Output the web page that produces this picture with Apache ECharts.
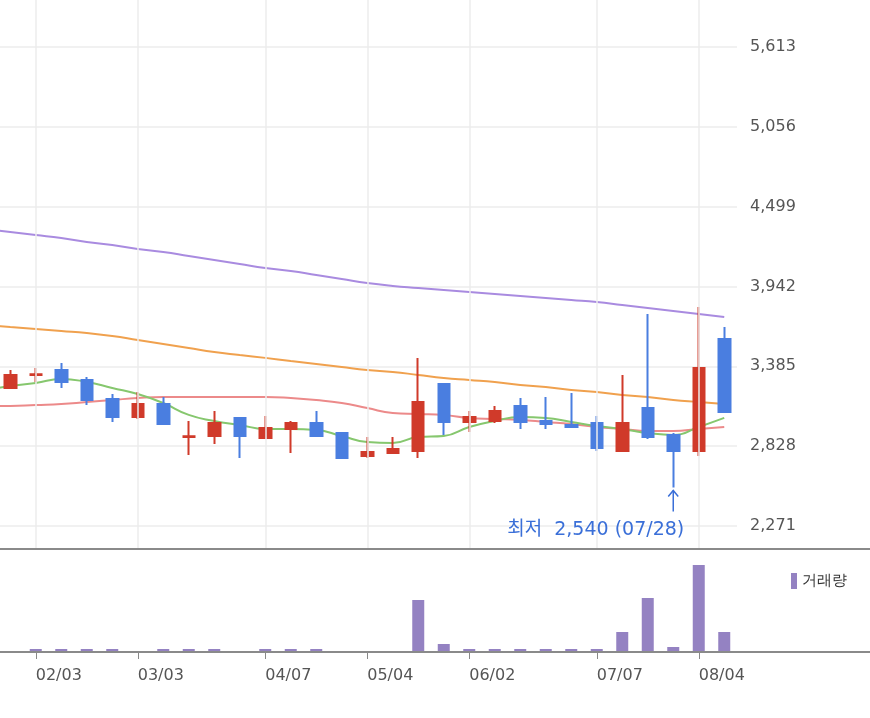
<!DOCTYPE html>
<html><head><meta charset="utf-8">
<script src="https://cdn.jsdelivr.net/npm/echarts@6/dist/echarts.min.js"></script>
<style>html,body{margin:0;padding:0;background:#fff;overflow:hidden}#c{position:absolute;left:-28px;top:0;width:898px;height:718px}</style>
</head><body><div id="c"></div>
<script>
const dates = ['01/20','01/27','02/03','02/10','02/17','02/24','03/03','03/10','03/17','03/24','03/31','04/07','04/14','04/21','04/28','05/04','05/12','05/19','05/26','06/02','06/09','06/16','06/23','06/30','07/07','07/14','07/21','07/28','08/04','08/11'];
const labelDates = ['02/03','03/03','04/07','05/04','06/02','07/07','08/04'];
const yTicks = [2271,2828,3385,3942,4499,5056,5613];
// [open, close, low, high]
const ohlc = [
  null,
  [3234,3325,3234,3360],
  [3325,3330,3276,3373],
  [3360,3276,3234,3408],
  [3290,3150,3115,3311],
  [3157,3032,2997,3192],
  [3032,3122,3018,3206],
  [3122,2983,2976,3171],
  [2892,2898,2766,3004],
  [2899,2990,2843,3073],
  [3025,2899,2745,3025],
  [2885,2955,2878,3039],
  [2948,2990,2780,3004],
  [2990,2899,2899,3073],
  [2920,2745,2745,2920],
  [2760,2787,2745,2892],
  [2780,2808,2780,2892],
  [2794,3136,2745,3443],
  [3262,2997,2906,3262],
  [2997,3032,2927,3073],
  [3004,3073,2990,3108],
  [3108,2997,2948,3164],
  [3004,2983,2948,3171],
  [2976,2962,2962,3199],
  [2990,2815,2794,3039],
  [2794,2990,2794,3325],
  [3094,2892,2878,3750],
  [2906,2794,2540,2920],
  [2794,3373,2760,3799],
  [3576,3067,3067,3659]
];
const ma5 = [3220,3248,3269,3297,3276,3234,3192,3129,3046,3004,2976,2948,2948,2941,2899,2857,2850,2892,2899,2962,3004,3032,3025,2997,2969,2948,2920,2906,2962,3025];
const ma20 = [3108,3108,3115,3122,3136,3150,3164,3171,3171,3171,3171,3171,3164,3150,3129,3094,3060,3053,3046,3025,3018,3011,2997,2983,2962,2948,2934,2934,2948,2962];
const ma60 = [3673,3659,3646,3632,3618,3597,3569,3541,3513,3485,3464,3444,3422,3401,3380,3360,3346,3325,3304,3290,3276,3255,3241,3220,3206,3185,3171,3150,3136,3122];
const ma120 = [4343,4322,4301,4280,4253,4232,4204,4183,4155,4127,4099,4071,4050,4022,3994,3966,3946,3932,3918,3904,3890,3876,3862,3848,3834,3813,3792,3771,3750,3729];
const volume = [0,0,3,3,3,3,0,3,3,3,0,3,3,3,0,0,0,52,8,3,3,3,3,3,3,20,54,5,87,20];
const lowIndex = 27, lowValue = 2540;

const isLabel = (i) => labelDates.indexOf(dates[i]) >= 0;
const UP = '#d03a2a', DOWN = '#4a7ee0';
const chart = echarts.init(document.getElementById('c'));
const font = 'DejaVu Sans, sans-serif';
const candleData = ohlc.map(d => d ? d : '-');
const baseGraphic = [
  {type: 'line', shape: {x1: 28, y1: 549, x2: 898, y2: 549}, style: {stroke: '#8a8a8a', lineWidth: 2}, z: 10},
  {type: 'line', shape: {x1: 28, y1: 652, x2: 898, y2: 652}, style: {stroke: '#8a8a8a', lineWidth: 2}, z: 10}
];
chart.setOption({
  animation: false,
  grid: [
    {left: 0, width: 765, top: 47, height: 479},
    {left: 0, width: 765, top: 549, height: 103},
    {left: 0, width: 765, top: 0, height: 549}
  ],
  legend: {data: ['거래량'], right: 18, top: 568, icon: 'rect', itemWidth: 6, itemHeight: 16, itemGap: 4,
    textStyle: {color: '#333', fontSize: 15, fontFamily: font}},
  xAxis: [
    {type: 'category', data: dates, gridIndex: 0, axisLine: {show: false}, axisTick: {show: false}, axisLabel: {show: false}, splitLine: {show: false}},
    {type: 'category', data: dates, gridIndex: 1, axisLine: {show: false},
      axisTick: {show: true, alignWithLabel: true, interval: (i) => isLabel(i), length: 7, lineStyle: {color: '#888'}},
      axisLabel: {interval: (i) => isLabel(i), align: 'left', margin: 16, color: '#555', fontSize: 16, fontFamily: font}},
    {type: 'category', data: dates, gridIndex: 2, show: false}
  ],
  yAxis: [
    {type: 'value', gridIndex: 0, position: 'right', min: yTicks[0], max: yTicks[yTicks.length-1], interval: yTicks[1]-yTicks[0],
      axisLine: {show: false}, axisTick: {show: false},
      axisLabel: {margin: 13, color: '#555', fontSize: 16, fontFamily: font, formatter: v => Math.round(v).toLocaleString('en-US')},
      splitLine: {lineStyle: {color: '#ececec', width: 1.5}}},
    {type: 'value', gridIndex: 1, min: 0, max: 103, show: false},
    {type: 'value', gridIndex: 2, min: 0, max: 1, show: false}
  ],
  series: [
    {type: 'line', data: dates.map(() => '-'), xAxisIndex: 2, yAxisIndex: 2, symbol: 'none', z: 1, silent: true,
      markLine: {symbol: 'none', silent: true, label: {show: false}, lineStyle: {color: '#ececec', width: 1.5, type: 'solid'},
        data: labelDates.map(d => ({xAxis: d}))}},
    {type: 'line', data: ma120, xAxisIndex: 0, yAxisIndex: 0, symbol: 'none', smooth: true, lineStyle: {color: '#a98be0', width: 2}, z: 2},
    {type: 'line', data: ma60, xAxisIndex: 0, yAxisIndex: 0, symbol: 'none', smooth: true, lineStyle: {color: '#f0a14e', width: 2}, z: 2},
    {type: 'line', data: ma20, xAxisIndex: 0, yAxisIndex: 0, symbol: 'none', smooth: true, lineStyle: {color: '#ec8a8a', width: 2}, z: 2},
    {type: 'line', data: ma5, xAxisIndex: 0, yAxisIndex: 0, symbol: 'none', smooth: true, lineStyle: {color: '#86c76e', width: 2}, z: 2},
    {type: 'candlestick', data: candleData, xAxisIndex: 0, yAxisIndex: 0, barWidth: 12, z: 3,
      itemStyle: {color: UP, color0: DOWN, borderColor: UP, borderColor0: DOWN, borderWidth: 2}},
    {name: '거래량', type: 'bar', data: volume, xAxisIndex: 1, yAxisIndex: 1, barWidth: 12, itemStyle: {color: '#9482c2'}}
  ],
  graphic: baseGraphic
});
const p = chart.convertToPixel({gridIndex: 0}, [lowIndex, lowValue]);
chart.setOption({graphic: baseGraphic.concat([
  {type: 'polyline', shape: {points: [[p[0], p[1]+3],[p[0], p[1]+24]]}, style: {stroke: '#3a6fd8', lineWidth: 1.5}, z: 10},
  {type: 'polyline', shape: {points: [[p[0]-5, p[1]+9],[p[0], p[1]+3],[p[0]+5, p[1]+9]]}, style: {stroke: '#3a6fd8', lineWidth: 1.5, fill: null}, z: 10},
  {type: 'text', x: p[0]+11, y: p[1]+43, style: {text: '최저  ' + lowValue.toLocaleString('en-US') + ' (' + dates[lowIndex] + ')', align: 'right', verticalAlign: 'middle', fill: '#3a6fd8', fontSize: 19, fontFamily: 'DejaVu Sans, Noto Sans CJK KR, sans-serif'}, z: 10}
])});
</script></body></html>
